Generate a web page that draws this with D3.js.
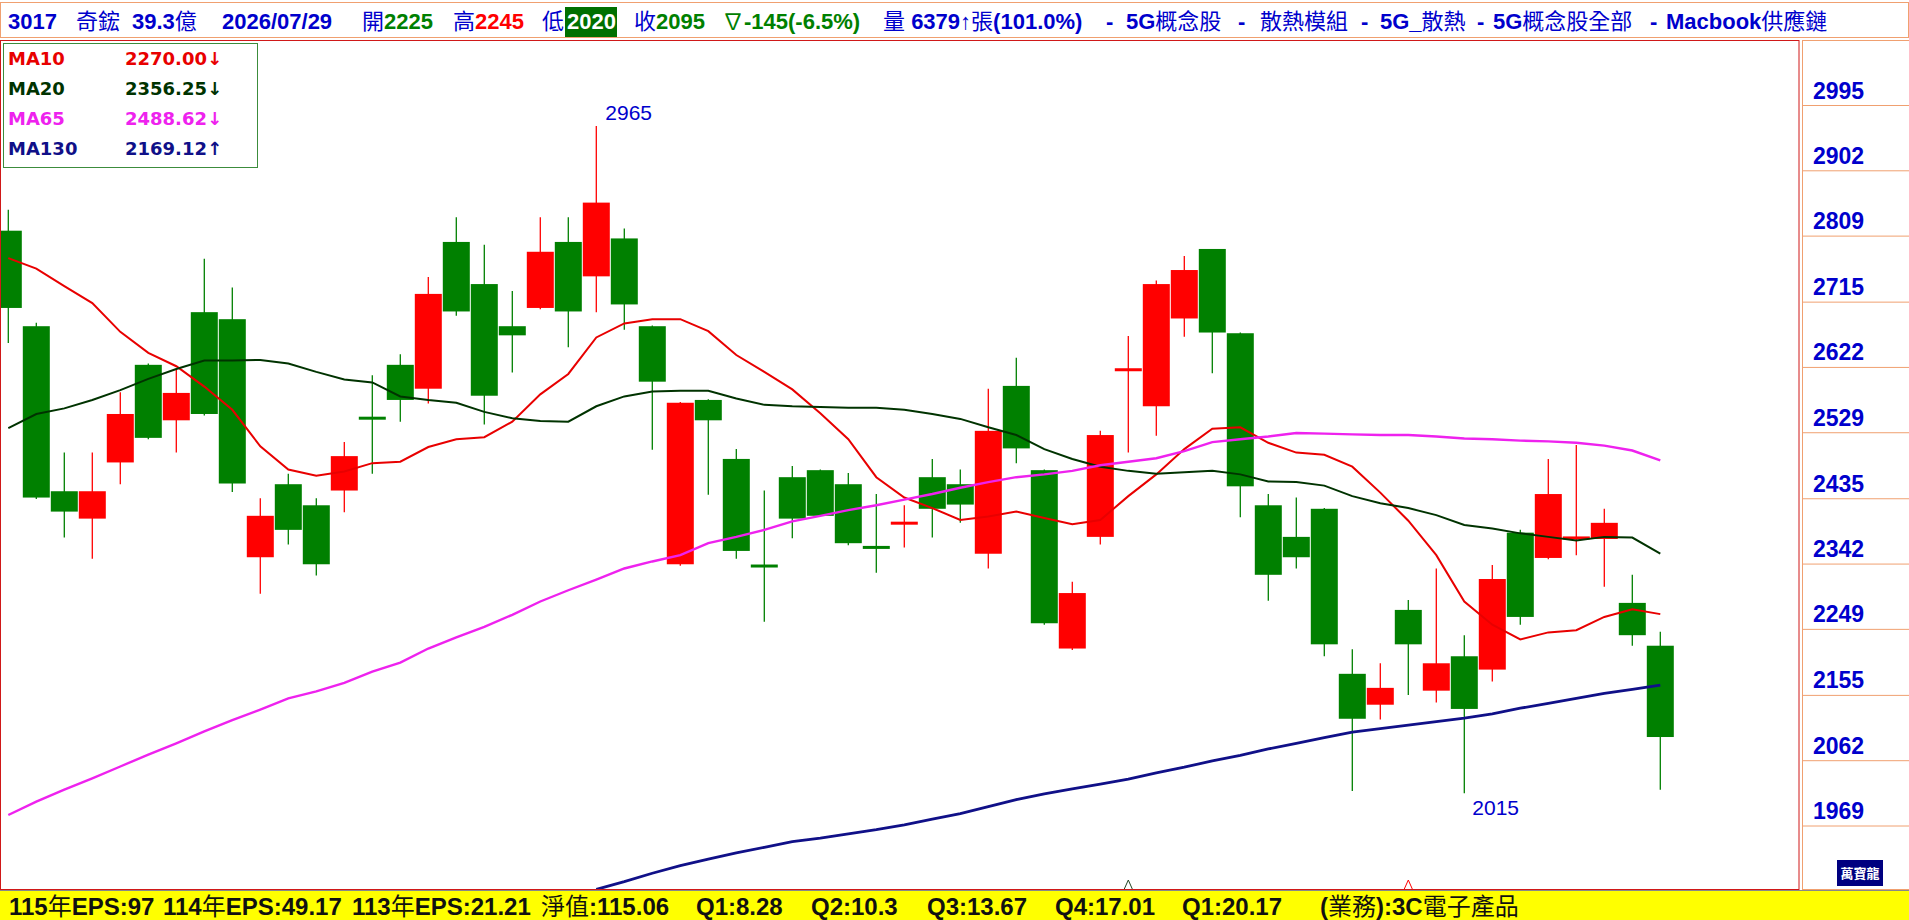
<!DOCTYPE html>
<html>
<head>
<meta charset="utf-8">
<script src="https://cdn.jsdelivr.net/npm/d3@7"></script>
<style>
body { margin: 0; background: #fff; }
svg { display: block; }
</style>
</head>
<body>
<svg width="1909" height="920"></svg>
<script>
// daily candles, oldest first
var opens  = [2816,2680,2445,2406,2486,2625,2546,2700,2690,2351,2455,2425,2446,2551,2625,2591,2800,2740,2680,2706,
              2800,2751,2805,2680,2341,2575,2491,2340,2465,2475,2455,2366,2398,2465,2455,2356,2595,2475,2221,2380,
              2617,2566,2691,2790,2670,2425,2380,2420,2185,2141,2276,2161,2210,2191,2386,2350,2377,2377,2286,2225];
var highs  = [2846,2685,2500,2500,2586,2627,2619,2776,2735,2435,2470,2435,2515,2610,2640,2750,2835,2796,2730,2835,
              2835,2965,2819,2681,2572,2576,2505,2446,2481,2476,2471,2441,2425,2491,2476,2591,2635,2476,2316,2531,
              2666,2745,2780,2790,2671,2441,2436,2421,2220,2200,2290,2335,2240,2340,2390,2491,2511,2420,2326,2245];
var lows   = [2656,2434,2379,2349,2455,2519,2500,2553,2444,2299,2369,2325,2415,2470,2544,2570,2695,2540,2614,2704,
              2650,2700,2675,2504,2339,2440,2349,2259,2378,2409,2368,2329,2365,2379,2400,2335,2485,2255,2219,2369,
              2500,2524,2665,2613,2408,2289,2335,2210,2018,2120,2155,2144,2015,2174,2255,2348,2354,2309,2225,2020];
var closes = [2706,2436,2416,2445,2555,2521,2585,2555,2456,2410,2390,2341,2495,2547,2575,2726,2701,2581,2667,2786,
              2701,2856,2711,2601,2571,2546,2360,2337,2406,2410,2371,2364,2401,2420,2426,2531,2506,2257,2300,2525,
              2619,2740,2760,2671,2452,2326,2351,2227,2121,2165,2227,2200,2135,2320,2266,2441,2380,2400,2240,2095];

// moving averages (null = not on screen)
var ma10  = [2777,2762,2737,2713,2672,2642,2623,2594,2561,2509,2476,2467,2473,2485,2487,2508,2519,2522,2544,2583,
             2612,2664,2684,2690,2690,2673,2639,2615,2590,2556,2519,2465,2436,2421,2404,2409,2416,2407,2398,2404,
             2438,2469,2505,2534,2536,2514,2500,2497,2480,2443,2403,2354,2288,2255,2234,2244,2247,2266,2277,2270];
var ma20  = [2535,2555,2563,2575,2589,2605,2619,2631,2631,2632,2627,2615,2604,2600,2580,2575,2571,2558,2549,2545,
             2544,2566,2580,2587,2588,2588,2577,2568,2566,2565,2564,2564,2561,2555,2548,2536,2525,2505,2491,2480,
             2474,2470,2472,2474,2469,2459,2458,2453,2438,2428,2421,2411,2397,2392,2385,2380,2375,2380,2379,2356];
var ma65  = [1984,2003,2020,2036,2053,2070,2086,2103,2119,2134,2150,2160,2172,2188,2201,2221,2237,2252,2269,2288,
             2304,2319,2335,2345,2354,2371,2380,2390,2402,2410,2418,2425,2433,2441,2450,2458,2465,2469,2474,2482,
             2487,2492,2502,2515,2519,2523,2528,2527,2526,2525,2525,2523,2520,2519,2517,2516,2514,2510,2503,2489];
var ma130 = [null,null,null,null,null,null,null,null,null,null,null,null,null,null,null,null,null,null,null,null,
             null,1878,1889,1901,1912,1921,1930,1938,1946,1951,1957,1963,1970,1978,1986,1996,2006,2014,2021,2028,
             2035,2044,2052,2061,2069,2078,2086,2094,2102,2107,2112,2117,2122,2128,2136,2143,2150,2157,2163,2169];

var maNames = ["MA10", "MA20", "MA65", "MA130"];
var maLast  = ["2270.00", "2356.25", "2488.62", "2169.12"];
var maTrend = ["↓", "↓", "↓", "↑"];

var yTicks = [2995, 2902, 2809, 2715, 2622, 2529, 2435, 2342, 2249, 2155, 2062, 1969];
var markIdx = [40, 50];

var stockId = "3017", stockName = "奇鋐", capital = "39.3億", tradeDate = "2026/07/29";
var dayOpen = 2225, dayHigh = 2245, dayLow = 2020, dayClose = 2095, dayChange = -145, dayPct = "-6.5%";
var volume = "6379", volPct = "101.0%";
var tags = ["5G概念股", "散熱模組", "5G_散熱", "5G概念股全部", "Macbook供應鏈"];
var footerItems = ["115年EPS:97", "114年EPS:49.17", "113年EPS:21.21", "淨值:115.06", "Q1:8.28",
                   "Q2:10.3", "Q3:13.67", "Q4:17.01", "Q1:20.17", "(業務):3C電子產品"];

var blue = "#0000cc", green = "#008000", red = "#ff0000";
var fontFam = "'Liberation Sans', Arial, 'Noto Sans CJK TC', sans-serif";

var svg = d3.select("svg");

var x = d3.scaleLinear().domain([0, 59]).range([8.3, 1660.3]),
    y = d3.scaleLinear().domain([1969, 2995]).range([825.5, 105]);

// ascii runs bold, CJK runs normal
function runs(sel, str, color) {
    str.match(/[\x00-\x7f]+|[^\x00-\x7f]+/g).forEach(function(s) {
        sel.append("tspan").text(s).attr("fill", color)
            .attr("font-weight", /^[\x00-\x7f]+$/.test(s) ? "bold" : "normal");
    });
}

// ---- header
var hdr = svg.append("g").style("font-family", fontFam).style("font-size", "22px");
hdr.append("rect").attr("x", 0.5).attr("y", 2.5).attr("width", 1908).attr("height", 35)
    .attr("fill", "none").attr("stroke", "#f0a070");

function hText(xp, parts) {
    var t = hdr.append("text").attr("x", xp).attr("y", 29);
    parts.forEach(function(p) { runs(t, p[0], p[1]); });
    return t;
}
hText(8, [[stockId, blue]]);
hText(76, [[stockName, blue]]);
hText(132, [[capital, blue]]);
hText(222, [[tradeDate, blue]]);
hText(362, [["開", blue], [String(dayOpen), green]]);
hText(453, [["高", blue], [String(dayHigh), red]]);
hText(542, [["低", blue]]);
hdr.append("rect").attr("x", 565).attr("y", 7).attr("width", 52).attr("height", 30).attr("fill", "#007000");
hText(567, [[String(dayLow), "#fff"]]);
hText(634, [["收", blue], [String(dayClose), green]]);
hText(722, [["∇" + dayChange + "(" + dayPct + ")", green]]);
hText(883, [["量 " + volume + "↑張(" + volPct + ")", blue]]);

var dashX = [1106, 1238, 1361, 1477, 1650],
    tagX = [1126, 1260, 1380, 1493, 1666];
tags.forEach(function(t, i) {
    hText(dashX[i], [["-", blue]]);
    hText(tagX[i], [[t, blue]]);
});

// ---- frames
svg.append("rect").attr("x", 0.5).attr("y", 40.5).attr("width", 1798.5).attr("height", 849)
    .attr("fill", "#fff").attr("stroke", "#d01818");
svg.append("rect").attr("x", 1802.5).attr("y", 40.5).attr("width", 107).attr("height", 849)
    .attr("fill", "#fff").attr("stroke", "#f0a070");

// ---- right axis
var axis = svg.append("g")
    .attr("transform", "translate(1803,0)")
    .call(d3.axisRight(y).tickValues(yTicks).tickSize(106).tickPadding(-96).tickFormat(d3.format("d")));
axis.select(".domain").remove();
axis.selectAll(".tick line").attr("stroke", "#f0a070");
axis.selectAll(".tick text")
    .attr("dy", -7)
    .attr("fill", blue)
    .style("font", "bold 23px 'Liberation Sans', Arial, sans-serif");

// ---- candles
svg.append("defs").append("clipPath").attr("id", "plotClip")
    .append("rect").attr("x", 1).attr("y", 41).attr("width", 1798).attr("height", 848);
var plot = svg.append("g").attr("clip-path", "url(#plotClip)");

var idx = d3.range(closes.length);
function candleColor(i) { return closes[i] >= opens[i] ? red : green; }

plot.selectAll(".wick").data(idx).enter().append("line")
    .attr("class", "wick")
    .attr("x1", function(d) { return x(d); })
    .attr("x2", function(d) { return x(d); })
    .attr("y1", function(d) { return y(highs[d]); })
    .attr("y2", function(d) { return y(lows[d]); })
    .attr("stroke", candleColor)
    .attr("stroke-width", 1.3);

plot.selectAll(".body").data(idx).enter().append("rect")
    .attr("class", "body")
    .attr("x", function(d) { return x(d) - 13.5; })
    .attr("width", 27)
    .attr("y", function(d) {
        var t = y(Math.max(opens[d], closes[d])), b = y(Math.min(opens[d], closes[d]));
        return b - t < 3 ? (t + b) / 2 - 1.5 : t;
    })
    .attr("height", function(d) {
        var t = y(Math.max(opens[d], closes[d])), b = y(Math.min(opens[d], closes[d]));
        return Math.max(3, b - t);
    })
    .attr("fill", candleColor);

// ---- moving averages
var line = d3.line()
    .defined(function(d) { return d != null; })
    .x(function(d, i) { return x(i); })
    .y(function(d) { return y(d); });

var maSeries = [ma10, ma20, ma65, ma130],
    maColors = ["#e80000", "#003300", "#ee22ee", "#101088"],
    maWidths = [2, 2, 2.4, 2.8];

plot.selectAll(".ma").data(maSeries).enter().append("path")
    .attr("class", "ma")
    .attr("d", function(d) { return line(d); })
    .attr("fill", "none")
    .attr("stroke", function(d, i) { return maColors[i]; })
    .attr("stroke-width", function(d, i) { return maWidths[i]; });

// high / low marks
var iMax = d3.maxIndex(highs), iMin = d3.minIndex(lows);
plot.append("text").attr("x", x(iMax) + 9).attr("y", y(highs[iMax]) - 6)
    .attr("fill", blue).style("font", "21px " + fontFam).text(highs[iMax]);
plot.append("text").attr("x", x(iMin) + 8).attr("y", y(lows[iMin]) + 22)
    .attr("fill", blue).style("font", "21px " + fontFam).text(lows[iMin]);

// small triangles on bottom edge
plot.selectAll(".mark").data(markIdx).enter().append("path")
    .attr("class", "mark")
    .attr("d", function(d) { return "M" + (x(d) - 4) + ",889L" + x(d) + ",880L" + (x(d) + 4) + ",889"; })
    .attr("fill", "none")
    .attr("stroke", function(d, i) { return i == 0 ? "#224422" : red; });

// ---- legend box
var leg = svg.append("g");
leg.append("rect").attr("x", 3.5).attr("y", 43.5).attr("width", 254).attr("height", 124)
    .attr("fill", "#fff").attr("stroke", "#3c8c3c");
maNames.forEach(function(n, i) {
    var row = leg.append("g").style("font", "bold 18px 'DejaVu Sans', sans-serif").attr("fill", maColors[i]);
    row.append("text").attr("x", 8).attr("y", 65 + i * 30).text(n);
    row.append("text").attr("x", 125).attr("y", 65 + i * 30).text(maLast[i] + maTrend[i]);
});

// ---- logo
svg.append("rect").attr("x", 1837).attr("y", 860).attr("width", 46).attr("height", 26).attr("fill", "#000080");
svg.append("text").attr("x", 1860).attr("y", 878).attr("text-anchor", "middle")
    .attr("fill", "#fff").style("font", "bold 13px 'Noto Sans CJK TC', sans-serif").text("萬寶龍");

// ---- footer
svg.append("line").attr("x1", 0).attr("x2", 1909).attr("y1", 890.5).attr("y2", 890.5).attr("stroke", "#888");
svg.append("rect").attr("x", 0).attr("y", 891).attr("width", 1909).attr("height", 29).attr("fill", "#ffff00");
var footX = [9, 163, 352, 541, 696, 811, 927, 1055, 1182, 1320];
var foot = svg.append("g").style("font-family", fontFam).style("font-size", "24px");
footerItems.forEach(function(s, i) {
    var t = foot.append("text").attr("x", footX[i]).attr("y", 915);
    runs(t, s, "#111");
});
</script>
</body>
</html>
